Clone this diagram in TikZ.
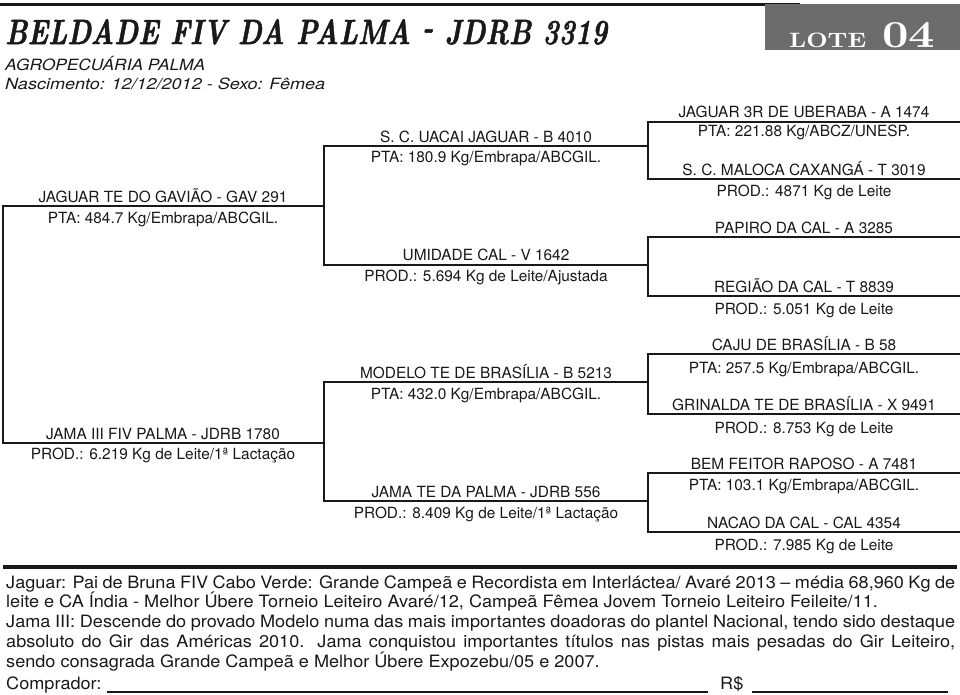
\documentclass[tikz,border=0pt]{standalone}
\usepackage{fontspec}
\usepackage{graphicx}
\newfontfamily\hv{TeX Gyre Heros}
\newfontfamily\hvp[FakeStretch=1.065]{TeX Gyre Heros}
\newfontfamily\tfont[BoldItalicFeatures={FakeBold=1.6}]{Latin Modern Roman}
\definecolor{lotegray}{RGB}{108,108,108}
\definecolor{ink}{RGB}{25,25,25}
\tikzset{
  tree/.style={line width=1.8pt, draw=ink, line join=miter},
  an/.style={anchor=base, inner sep=0pt, text=ink, font=\hv\fontsize{15.4}{18}\selectfont},
  pline/.style={anchor=base west, inner sep=0pt, text=ink, font=\hvp\fontsize{17}{20}\selectfont},
  hd/.style={anchor=base west, inner sep=0pt, text=ink},
}
\begin{document}
\begin{tikzpicture}[x=1pt,y=-1pt]
\useasboundingbox (0,0) rectangle (960,694);
% header
\coordinate (tl0) at (0,4); \coordinate (tl1) at (800,4);
\draw[line width=3pt, ink] (tl0) -- (tl1);
\node[fill=lotegray, anchor=north west, inner sep=0pt, minimum width=195pt, minimum height=46pt] (lote) at (765,4) {};
\node[anchor=base west, inner sep=0pt, text=white] (lotew) at (789,47) {\resizebox{77pt}{14.5pt}{\bfseries LOTE}};
\node[anchor=base west, inner sep=0pt, text=white] (loten) at (882,47) {\resizebox{53pt}{25pt}{\bfseries 04}};
\node[hd] (title) at (5,44) {\resizebox{602pt}{\height}{\tfont\fontsize{35}{40}\selectfont\bfseries\itshape BELDADE FIV DA PALMA \raisebox{0.15em}{-} JDRB 3319}};
\node[hd] (farm) at (5,70) {\resizebox{200pt}{\height}{\hv\itshape\fontsize{15.5}{18}\selectfont AGROPECUÁRIA PALMA}};
\node[hd] (birth) at (5,89) {\resizebox{320pt}{\height}{\hv\itshape\fontsize{15.5}{18}\selectfont Nascimento: 12/12/2012 - Sexo: Fêmea}};
% tree lines
\coordinate (P) at (324,206); \coordinate (Pc) at (3,206); \coordinate (Mc) at (3,443); \coordinate (M) at (324,443);
\draw[tree] (P) -- (Pc) -- (Mc) -- (M);
\coordinate (PP) at (648,146); \coordinate (PPc) at (324,146); \coordinate (PMc) at (324,265); \coordinate (PM) at (648,265);
\draw[tree] (PP) -- (PPc) -- (PMc) -- (PM);
\coordinate (MP) at (648,382); \coordinate (MPc) at (324,382); \coordinate (MMc) at (324,501); \coordinate (MM) at (648,501);
\draw[tree] (MP) -- (MPc) -- (MMc) -- (MM);
\coordinate (PPP) at (960,122); \coordinate (PPPc) at (648,122); \coordinate (PPMc) at (648,179); \coordinate (PPM) at (960,179);
\draw[tree] (PPP) -- (PPPc) -- (PPMc) -- (PPM);
\coordinate (PMP) at (960,237); \coordinate (PMPc) at (648,237); \coordinate (PMMc) at (648,296); \coordinate (PMM) at (960,296);
\draw[tree] (PMP) -- (PMPc) -- (PMMc) -- (PMM);
\coordinate (MPP) at (960,354); \coordinate (MPPc) at (648,354); \coordinate (MPMc) at (648,414); \coordinate (MPM) at (960,414);
\draw[tree] (MPP) -- (MPPc) -- (MPMc) -- (MPM);
\coordinate (MMP) at (960,473); \coordinate (MMPc) at (648,473); \coordinate (MMMc) at (648,532); \coordinate (MMM) at (960,532);
\draw[tree] (MMP) -- (MMPc) -- (MMMc) -- (MMM);
% gen1 text
\node[an] (t1) at (163,202) {JAGUAR TE DO GAVIÃO - GAV 291};
\node[an] (t1i) at (163,223) {PTA: 484.7 Kg/Embrapa/ABCGIL.};
\node[an] (t2) at (163,439) {JAMA III FIV PALMA - JDRB 1780};
\node[an] (t2i) at (163,459) {PROD.: 6.219 Kg de Leite/1ª Lactação};
% gen2 text
\node[an] (t3) at (486,142) {S. C. UACAI JAGUAR - B 4010};
\node[an] (t3i) at (486,162) {PTA: 180.9 Kg/Embrapa/ABCGIL.};
\node[an] (t4) at (486,260) {UMIDADE CAL - V 1642};
\node[an] (t4i) at (486,281) {PROD.: 5.694 Kg de Leite/Ajustada};
\node[an] (t5) at (486,378) {MODELO TE DE BRASÍLIA - B 5213};
\node[an] (t5i) at (486,399) {PTA: 432.0 Kg/Embrapa/ABCGIL.};
\node[an] (t6) at (486,497) {JAMA TE DA PALMA - JDRB 556};
\node[an] (t6i) at (486,518) {PROD.: 8.409 Kg de Leite/1ª Lactação};
% gen3 text
\node[an] (t7) at (804,117) {JAGUAR 3R DE UBERABA - A 1474};
\node[an] (t7i) at (804,136) {PTA: 221.88 Kg/ABCZ/UNESP.};
\node[an] (t8) at (804,175) {S. C. MALOCA CAXANGÁ - T 3019};
\node[an] (t8i) at (804,196) {PROD.: 4871 Kg de Leite};
\node[an] (t9) at (804,233) {PAPIRO DA CAL - A 3285};
\node[an] (t10) at (804,292) {REGIÃO DA CAL - T 8839};
\node[an] (t10i) at (804,314) {PROD.: 5.051 Kg de Leite};
\node[an] (t11) at (804,350) {CAJU DE BRASÍLIA - B 58};
\node[an] (t11i) at (804,373) {PTA: 257.5 Kg/Embrapa/ABCGIL.};
\node[an] (t12) at (804,410) {GRINALDA TE DE BRASÍLIA - X 9491};
\node[an] (t12i) at (804,433) {PROD.: 8.753 Kg de Leite};
\node[an] (t13) at (804,469) {BEM FEITOR RAPOSO - A 7481};
\node[an] (t13i) at (804,490) {PTA: 103.1 Kg/Embrapa/ABCGIL.};
\node[an] (t14) at (804,528) {NACAO DA CAL - CAL 4354};
\node[an] (t14i) at (804,550) {PROD.: 7.985 Kg de Leite};
% bottom
\coordinate (bl0) at (3,567); \coordinate (bl1) at (957,567);
\draw[line width=4pt, ink] (bl0) -- (bl1);
\node[pline] (l1) at (6,588) {\makebox[949pt][s]{Jaguar: Pai de Bruna FIV Cabo Verde: Grande Campeã e Recordista em Interláctea/ Avaré 2013 – média 68,960 Kg de}};
\node[pline] (l2) at (6,607) {leite e CA Índia - Melhor Úbere Torneio Leiteiro Avaré/12, Campeã Fêmea Jovem Torneio Leiteiro Feileite/11.};
\node[pline] (l3) at (6,627) {\makebox[949pt][s]{Jama III: Descende do provado Modelo numa das mais importantes doadoras do plantel Nacional, tendo sido destaque}};
\node[pline] (l4) at (6,647) {\makebox[949pt][s]{absoluto do Gir das Américas 2010. Jama conquistou importantes títulos nas pistas mais pesadas do Gir Leiteiro,}};
\node[pline] (l5) at (6,667) {sendo consagrada Grande Campeã e Melhor Úbere Expozebu/05 e 2007.};
\node[pline] (comp) at (6,689) {Comprador:};
\node[pline] (rs) at (720,689) {R\$};
\coordinate (u1a) at (107,692); \coordinate (u1b) at (708,692);
\coordinate (u2a) at (752,692); \coordinate (u2b) at (948,692);
\draw[line width=1.3pt, ink] (u1a) -- (u1b);
\draw[line width=1.3pt, ink] (u2a) -- (u2b);
\end{tikzpicture}
\end{document}
